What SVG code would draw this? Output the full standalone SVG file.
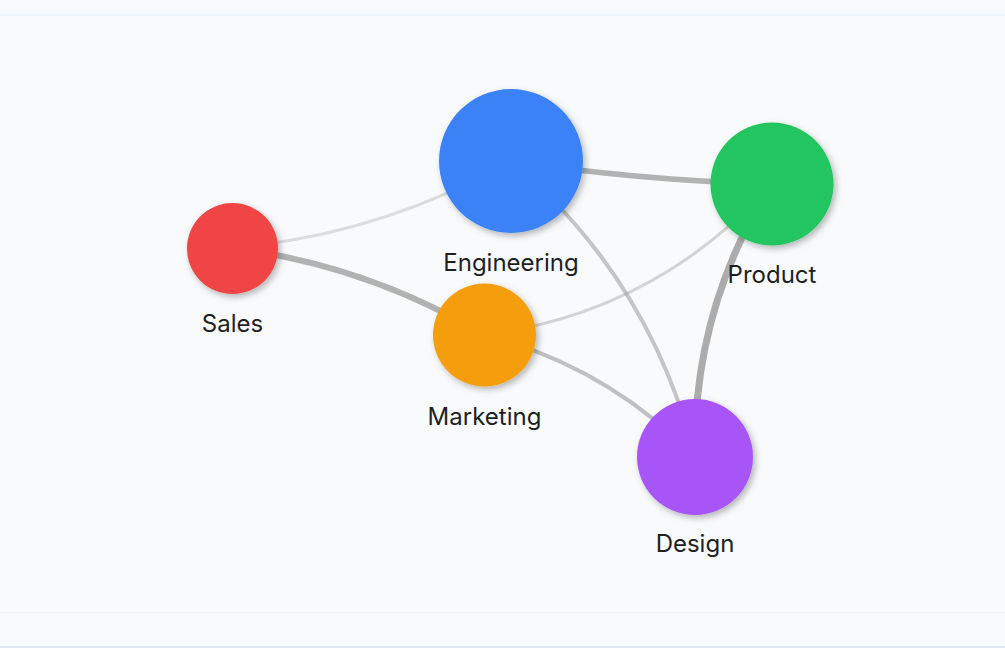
<svg xmlns="http://www.w3.org/2000/svg" width="1005" height="648" viewBox="0 0 1005 648">
  <defs>
    <filter id="shadow" x="-30%" y="-30%" width="160%" height="160%">
      <feDropShadow dx="2.5" dy="3" stdDeviation="3" flood-color="#000" flood-opacity="0.28"/>
    </filter>
    <style>
      .link { fill: none; stroke: #999; stroke-linecap: butt; }
      .node { filter: url(#shadow); }
      .label { font-family: Inter, "Liberation Sans", sans-serif; font-size: 24px; fill: #1f1f1f; text-anchor: middle; }
    </style>
  </defs>
  <rect x="0" y="0" width="1005" height="648" fill="#f8fafc"/>
  <rect x="0" y="14" width="1005" height="2" fill="#eef3f8"/>
  <rect x="0" y="612" width="1005" height="1.5" fill="#eef2f7"/>
  <rect x="0" y="646" width="1005" height="2" fill="#e2e6ef"/>

  <g id="connectors">
    <path class="link" d="M232,248 Q381,235 511,161" stroke-width="3" stroke-opacity="0.3"/>
    <path class="link" d="M232,248 Q367,265 484.5,335" stroke-width="6" stroke-opacity="0.75"/>
    <path class="link" d="M511,161 Q640,180.5 771.5,184" stroke-width="5.5" stroke-opacity="0.75"/>
    <path class="link" d="M511,161 Q650.5,279.4 695,457" stroke-width="4" stroke-opacity="0.55"/>
    <path class="link" d="M484.5,335 Q656,312.5 771.5,184" stroke-width="3" stroke-opacity="0.4"/>
    <path class="link" d="M484.5,335 Q606.8,366.6 695,457" stroke-width="4" stroke-opacity="0.6"/>
    <path class="link" d="M771.5,184 Q692.8,309.2 695,457" stroke-width="7" stroke-opacity="0.8"/>
  </g>

  <g id="node-sales">
    <circle class="node" cx="232.5" cy="248.5" r="45.5" fill="#ef4444"/>
    <text class="label" x="232.5" y="332">Sales</text>
  </g>
  <g id="node-engineering">
    <circle class="node" cx="511" cy="161" r="72" fill="#3b82f6"/>
    <text class="label" x="511" y="271">Engineering</text>
  </g>
  <g id="node-product">
    <circle class="node" cx="772" cy="184" r="61.5" fill="#22c55e"/>
    <text class="label" x="772" y="283">Product</text>
  </g>
  <g id="node-marketing">
    <circle class="node" cx="484.5" cy="335" r="51.5" fill="#f59e0b"/>
    <text class="label" x="484.5" y="425">Marketing</text>
  </g>
  <g id="node-design">
    <circle class="node" cx="695" cy="457" r="58" fill="#a855f7"/>
    <text class="label" x="695" y="552">Design</text>
  </g>
</svg>
